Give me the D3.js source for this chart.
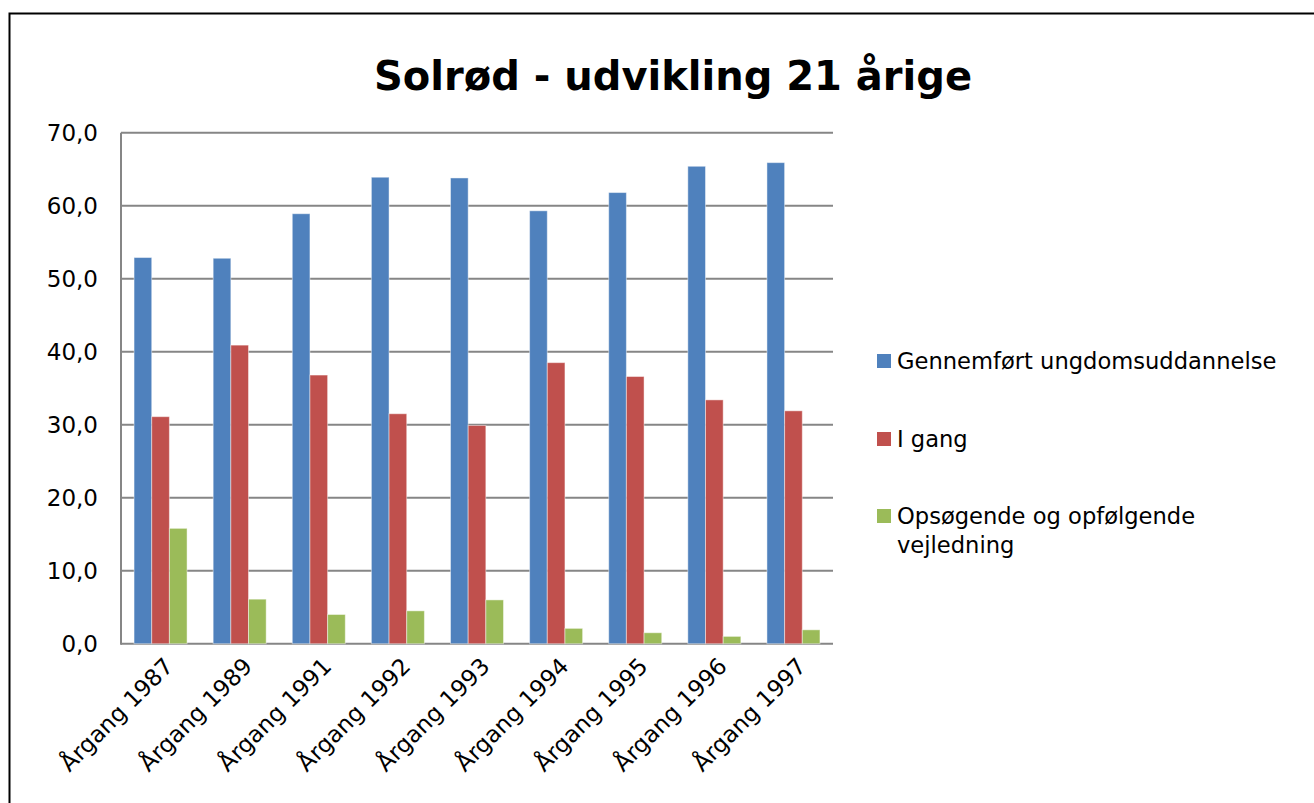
<!DOCTYPE html>
<meta charset="utf-8">
<style>
body { margin: 0; background: #fff; }
text { font-family: "DejaVu Sans", sans-serif; fill: #000; }
.grid line { stroke: #868686; stroke-width: 2; }
.yaxis path, .xaxis path { display: none; }
.yaxis line, .xaxis line { display: none; }
</style>
<svg id="chart" width="1314" height="803"></svg>
<script src="https://cdnjs.cloudflare.com/ajax/libs/d3/7.8.5/d3.min.js"></script>
<script>

var categories = ["Årgang 1987", "Årgang 1989", "Årgang 1991", "Årgang 1992", "Årgang 1993",
                  "Årgang 1994", "Årgang 1995", "Årgang 1996", "Årgang 1997"];
var seriesNames = ["Gennemført ungdomsuddannelse", "I gang", "Opsøgende og opfølgende vejledning"];
var gennemfort = [52.9, 52.8, 58.9, 63.9, 63.8, 59.3, 61.8, 65.4, 65.9];
var igang      = [31.1, 40.9, 36.8, 31.5, 29.9, 38.5, 36.6, 33.4, 31.9];
var opsogende  = [15.8, 6.1, 4.0, 4.5, 6.0, 2.1, 1.5, 1.0, 1.9];
var yTicks = [0, 10, 20, 30, 40, 50, 60, 70];
var colors = ["#4F81BD", "#C0504D", "#9BBB59"];

var seriesValues = [gennemfort, igang, opsogende];

var svg = d3.select("svg"),
    margin = {top: 132.7, left: 121, right: 833, bottom: 643.7};

// outer frame
svg.append("rect")
    .attr("x", 9.5).attr("y", 13.5)
    .attr("width", 1320).attr("height", 800)
    .attr("fill", "none")
    .attr("stroke", "#000")
    .attr("stroke-width", 2);

svg.append("text")
    .attr("x", 673)
    .attr("y", 90)
    .attr("text-anchor", "middle")
    .style("font-size", "40px")
    .style("font-weight", "bold")
    .text("Solrød - udvikling 21 årige");

var x0 = d3.scaleBand()
    .domain(categories)
    .range([margin.left, margin.right])
    .paddingInner(0.33)
    .paddingOuter(0.165);

var x1 = d3.scaleBand()
    .domain(d3.range(seriesNames.length))
    .range([0, x0.bandwidth()]);

var y = d3.scaleLinear()
    .domain([0, 70])
    .range([margin.bottom, margin.top]);

// gridlines
svg.append("g")
    .attr("class", "grid")
  .selectAll("line")
  .data(yTicks)
  .enter().append("line")
    .attr("x1", margin.left)
    .attr("x2", margin.right)
    .attr("y1", function(d) { return y(d); })
    .attr("y2", function(d) { return y(d); });

// y axis line
svg.append("line")
    .attr("x1", margin.left).attr("x2", margin.left)
    .attr("y1", margin.top).attr("y2", margin.bottom + 1)
    .attr("stroke", "#868686")
    .attr("stroke-width", 2);

svg.append("g")
    .attr("class", "yaxis")
    .attr("transform", "translate(" + (margin.left - 10) + ",0)")
    .call(d3.axisLeft(y).tickValues(yTicks).tickSize(0).tickPadding(13)
      .tickFormat(function(d) { return d3.format(".1f")(d).replace(".", ","); }))
    .selectAll("text")
    .style("font-size", "23px")
    .style("font-family", "DejaVu Sans, sans-serif");

// bars
var groups = svg.append("g")
  .selectAll("g")
  .data(categories)
  .enter().append("g")
    .attr("transform", function(d) { return "translate(" + x0(d) + ",0)"; });

groups.selectAll("rect")
  .data(function(d, i) { return seriesValues.map(function(s, k) { return {k: k, v: s[i]}; }); })
  .enter().append("rect")
    .attr("x", function(d) { return x1(d.k); })
    .attr("y", function(d) { return y(d.v); })
    .attr("width", x1.bandwidth())
    .attr("height", function(d) { return y(0) - y(d.v); })
    .attr("fill", function(d) { return colors[d.k]; })
    .attr("stroke", "rgba(255,255,255,0.45)")
    .attr("stroke-width", 1);

// x labels
var xa = svg.append("g")
    .attr("class", "xaxis")
    .attr("transform", "translate(0," + margin.bottom + ")")
    .call(d3.axisBottom(x0).tickSize(0).tickPadding(0));

xa.selectAll("text")
    .style("font-size", "23px")
    .style("font-family", "DejaVu Sans, sans-serif")
    .attr("text-anchor", "end")
    .attr("dy", null)
    .attr("y", 0)
    .attr("transform", "translate(14,24) rotate(-45)");

// legend
var legendRows = [
  {k: 0, y: 354, lines: ["Gennemført ungdomsuddannelse"]},
  {k: 1, y: 432, lines: ["I gang"]},
  {k: 2, y: 509, lines: ["Opsøgende og opfølgende", "vejledning"]}
];

var leg = svg.append("g")
  .selectAll("g")
  .data(legendRows)
  .enter().append("g");

leg.append("rect")
    .attr("x", 877)
    .attr("y", function(d) { return d.y; })
    .attr("width", 14)
    .attr("height", 14)
    .attr("fill", function(d) { return colors[d.k]; });

leg.append("text")
    .attr("x", 897)
    .attr("y", function(d) { return d.y + 15; })
    .style("font-size", "22.6px")
  .selectAll("tspan")
  .data(function(d) { return d.lines; })
  .enter().append("tspan")
    .attr("x", 897)
    .attr("dy", function(d, i) { return i === 0 ? 0 : 29; })
    .text(function(d) { return d; });

</script>
